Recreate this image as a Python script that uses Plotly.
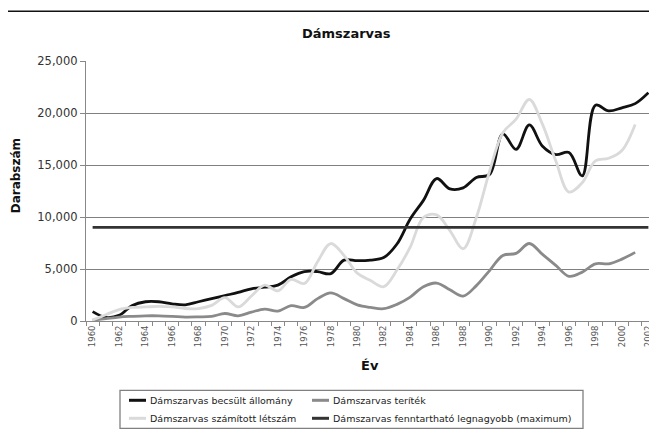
import plotly.graph_objects as go

years = list(range(1960, 2003))

becsult = [900, 350, 550, 1500, 1850, 1850, 1650, 1550, 1850, 2150,
           2450, 2750, 3100, 3250, 3450, 4250, 4750, 4750, 4550, 5850,
           5800, 5850, 6100, 7400, 9800, 11600, 13700, 12700, 12800, 13800,
           14100, 18000, 16500, 18850, 16800, 16000, 16200, 13950, 20750, 20200,
           20500, 20900, 21950]

teritek = [80, 230, 380, 450, 500, 500, 450, 380, 400, 450,
           720, 500, 850, 1150, 950, 1480, 1300, 2150, 2700, 2150,
           1550, 1300, 1180, 1600, 2300, 3300, 3650, 3000, 2400, 3400,
           4850, 6300, 6500, 7450, 6400, 5350, 4300, 4700, 5500, 5500,
           5950, 6600, None]

szamitott = [100, 600, 1100, 1300, 1350, 1400, 1350, 1200, 1200, 1500,
             2250, 1350, 2400, 3450, 2900, 4000, 3600, 5700, 7450, 6300,
             4600, 3900, 3300, 4900, 7100, 9950, 10200, 8700, 6950, 9950,
             14400, 18100, 19400, 21300, 18900, 15400, 12400, 13300, 15400, 15650,
             16400, 18900, None]

fenntarthato = [9000] * len(years)

tick_years = list(range(1960, 2003, 2))
tick_text = [str(y) for y in tick_years]

series_names = [
    "Dámszarvas becsült állomány",
    "Dámszarvas teríték",
    "Dámszarvas számított létszám",
    "Dámszarvas fenntartható legnagyobb (maximum)",
]
series_values = [becsult, teritek, szamitott, fenntarthato]
series_colors = ["#111111", "#8a8a8a", "#dadada", "#333333"]

FONT = "DejaVu Sans, Liberation Sans, Arial, sans-serif"

fig = go.Figure()
for name, vals, col in zip(series_names, series_values, series_colors):
    fig.add_trace(go.Scatter(
        x=years, y=vals, name=name, mode="lines",
        line=dict(color=col, width=2.8, shape="spline", smoothing=1.0),
        connectgaps=False, showlegend=False,
    ))

# page offset (body margin) -> figure coordinates
OFF = 8
W, H = 649, 434
PL, PR, PT, PB = 86, 655, 60.7, 320.7   # plot area in page pixels
L, R = PL - OFF, W - (PR - OFF)
T, B = PT - OFF, H - (PB - OFF)
pw, ph = W - L - R, H - T - B


def px(x):
    return (x - OFF - L) / pw


def py(y):
    return (H - B - (y - OFF)) / ph


annotations = [
    dict(text="<b>Dámszarvas</b>", x=px(346), y=py(33),
         font=dict(size=13, color="#111111", family=FONT)),
    dict(text="<b>Darabszám</b>", x=px(16), y=py(176), textangle=-90,
         font=dict(size=12, color="#111111", family=FONT)),
    dict(text="<b>Év</b>", x=px(370), y=py(365),
         font=dict(size=13, color="#111111", family=FONT)),
]
shapes = [
    dict(type="rect", xref="paper", yref="paper",
         x0=px(6.5), x1=px(720), y0=py(480), y1=py(11),
         line=dict(color="#111111", width=1.5), layer="below"),
    # legend box
    dict(type="rect", xref="paper", yref="paper",
         x0=px(120), x1=px(583), y0=py(428), y1=py(390),
         line=dict(color="#808080", width=1.3), fillcolor="white", layer="below"),
]

# legend entries (2 columns x 2 rows)
col_x = [129, 312]
row_y = [400, 418]
for i, (name, col) in enumerate(zip(series_names, series_colors)):
    cx = col_x[i % 2]
    cy = row_y[i // 2]
    shapes.append(dict(type="line", xref="paper", yref="paper",
                       x0=px(cx), x1=px(cx + 17), y0=py(cy), y1=py(cy),
                       line=dict(color=col, width=3)))
    annotations.append(dict(text=name, x=px(cx + 19), y=py(cy), xanchor="left",
                            font=dict(size=9.5, color="#222222", family=FONT)))

for a in annotations:
    a.setdefault("xref", "paper")
    a.setdefault("yref", "paper")
    a.setdefault("showarrow", False)
    a.setdefault("xanchor", "center")
    a.setdefault("yanchor", "middle")

fig.update_layout(
    width=W, height=H,
    margin=dict(l=L, r=R, t=T, b=B, autoexpand=False),
    paper_bgcolor="white", plot_bgcolor="white",
    font=dict(family=FONT, color="#222222"),
    showlegend=False,
    xaxis=dict(
        range=[1959.5, 2002.5], tickmode="array", tickvals=tick_years,
        ticktext=tick_text, tickangle=-90, ticks="", showgrid=False,
        showline=True, linecolor="#888888", linewidth=1.2, zeroline=False,
        tickfont=dict(size=8.5, color="#555555", family=FONT),
        minor=dict(ticks="outside", ticklen=4, tickcolor="#888888",
                   tickmode="linear", tick0=1959.5, dtick=1, showgrid=False),
    ),
    yaxis=dict(
        range=[0, 25000], dtick=5000, tickformat=",", showgrid=True,
        gridcolor="#808080", gridwidth=1, showline=True, linecolor="#888888",
        linewidth=1.3, ticks="outside", ticklen=5, tickcolor="#888888",
        zeroline=False, tickfont=dict(size=11.5, color="#333333", family=FONT),
    ),
    annotations=annotations,
    shapes=shapes,
)

fig.write_html("out.html")
